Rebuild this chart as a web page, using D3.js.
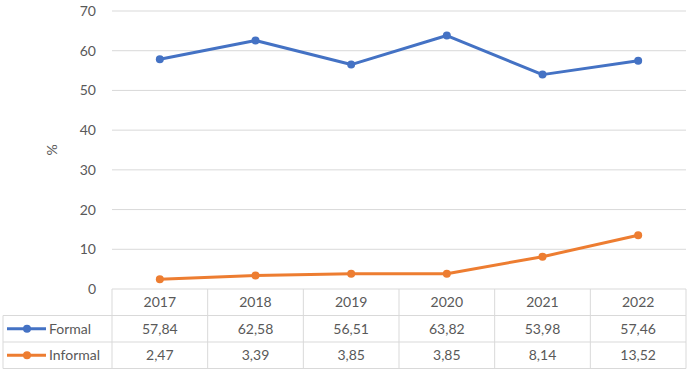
<!DOCTYPE html>
<html>
<head>
<meta charset="utf-8">
<script src="https://cdn.jsdelivr.net/npm/d3@7"></script>
<style>
  body { margin: 0; background: #fff; }
  svg text { font-family: Lato, "Open Sans", sans-serif; fill: #595959; }
</style>
</head>
<body>
<div id="chart"></div>
<script>
// DATA
const years = ["2017", "2018", "2019", "2020", "2021", "2022"];
const formal = [57.84, 62.58, 56.51, 63.82, 53.98, 57.46];
const informal = [2.47, 3.39, 3.85, 3.85, 8.14, 13.52];
const yTicks = [0, 10, 20, 30, 40, 50, 60, 70];

const series = [
    { name: "Formal", values: formal, color: "#4472C4" },
    { name: "Informal", values: informal, color: "#ED7D31" }
];

const W = 694, H = 373;
const plot = { left: 112, right: 686, top: 11, bottom: 289 };
const rowH = 26.5;
const tableLeft = 3;

const svg = d3.select("#chart").append("svg")
    .attr("width", W)
    .attr("height", H);

// scales
const x = d3.scaleBand()
    .domain(years)
    .range([plot.left, plot.right]);

const y = d3.scaleLinear()
    .domain([0, 70])
    .range([plot.bottom, plot.top]);

// gridlines
svg.append("g")
    .selectAll("line")
    .data(yTicks.filter(d => d > 0))
    .enter()
    .append("line")
    .attr("x1", plot.left)
    .attr("x2", plot.right)
    .attr("y1", d => y(d))
    .attr("y2", d => y(d))
    .attr("stroke", "#d9d9d9")
    .attr("stroke-width", 1);

// y axis labels
const yAxis = svg.append("g")
    .attr("transform", `translate(${plot.left - 12},0)`)
    .call(d3.axisLeft(y).tickValues(yTicks).tickSize(0).tickPadding(4));
yAxis.select(".domain").remove();
yAxis.selectAll("text")
    .style("font-size", "14px")
    .style("font-family", "Lato, 'Open Sans', sans-serif")
    .attr("fill", "#595959");

svg.append("text")
    .attr("transform", `translate(57, ${(plot.top + plot.bottom) / 2}) rotate(-90)`)
    .attr("text-anchor", "middle")
    .style("font-size", "14px")
    .text("%");

// lines
const line = d3.line()
    .x((d, i) => x(years[i]) + x.bandwidth() / 2)
    .y(d => y(d));

series.forEach(s => {
    svg.append("path")
        .attr("fill", "none")
        .attr("stroke", s.color)
        .attr("stroke-width", 3)
        .attr("stroke-linejoin", "round")
        .attr("d", line(s.values));

    svg.append("g")
        .selectAll("circle")
        .data(s.values)
        .enter()
        .append("circle")
        .attr("cx", (d, i) => x(years[i]) + x.bandwidth() / 2)
        .attr("cy", d => y(d))
        .attr("r", 4)
        .attr("fill", s.color);
});

// data table
const grid = svg.append("g")
    .attr("stroke", "#d9d9d9")
    .attr("stroke-width", 1);

const tTop = plot.bottom;
// horizontal lines
grid.append("line")
    .attr("x1", plot.left).attr("x2", plot.right)
    .attr("y1", tTop).attr("y2", tTop);
[1, 2, 3].forEach(r => {
    grid.append("line")
        .attr("x1", tableLeft).attr("x2", plot.right)
        .attr("y1", tTop + r * rowH).attr("y2", tTop + r * rowH);
});
// vertical lines
grid.append("line")
    .attr("x1", tableLeft).attr("x2", tableLeft)
    .attr("y1", tTop + rowH).attr("y2", tTop + 3 * rowH);
years.forEach(yr => {
    grid.append("line")
        .attr("x1", x(yr)).attr("x2", x(yr))
        .attr("y1", tTop).attr("y2", tTop + 3 * rowH);
});
grid.append("line")
    .attr("x1", plot.right).attr("x2", plot.right)
    .attr("y1", tTop).attr("y2", tTop + 3 * rowH);

const fmt = v => v.toFixed(2).replace(".", ",");

// header row
svg.append("g")
    .selectAll("text")
    .data(years)
    .enter()
    .append("text")
    .attr("x", d => x(d) + x.bandwidth() / 2)
    .attr("y", tTop + rowH / 2)
    .attr("dy", "0.35em")
    .attr("text-anchor", "middle")
    .style("font-size", "14px")
    .text(d => d);

series.forEach((s, r) => {
    const cy = tTop + (r + 1) * rowH + rowH / 2;
    svg.append("g")
        .selectAll("text")
        .data(s.values)
        .enter()
        .append("text")
        .attr("x", (d, i) => x(years[i]) + x.bandwidth() / 2)
        .attr("y", cy)
        .attr("dy", "0.35em")
        .attr("text-anchor", "middle")
        .style("font-size", "14px")
        .text(d => fmt(d));

    // legend key
    svg.append("line")
        .attr("x1", 7).attr("x2", 46)
        .attr("y1", cy).attr("y2", cy)
        .attr("stroke", s.color)
        .attr("stroke-width", 3);
    svg.append("circle")
        .attr("cx", 27).attr("cy", cy)
        .attr("r", 4)
        .attr("fill", s.color);
    svg.append("text")
        .attr("x", 49)
        .attr("y", cy)
        .attr("dy", "0.35em")
        .style("font-size", "14px")
        .text(s.name);
});
</script>
</body>
</html>
